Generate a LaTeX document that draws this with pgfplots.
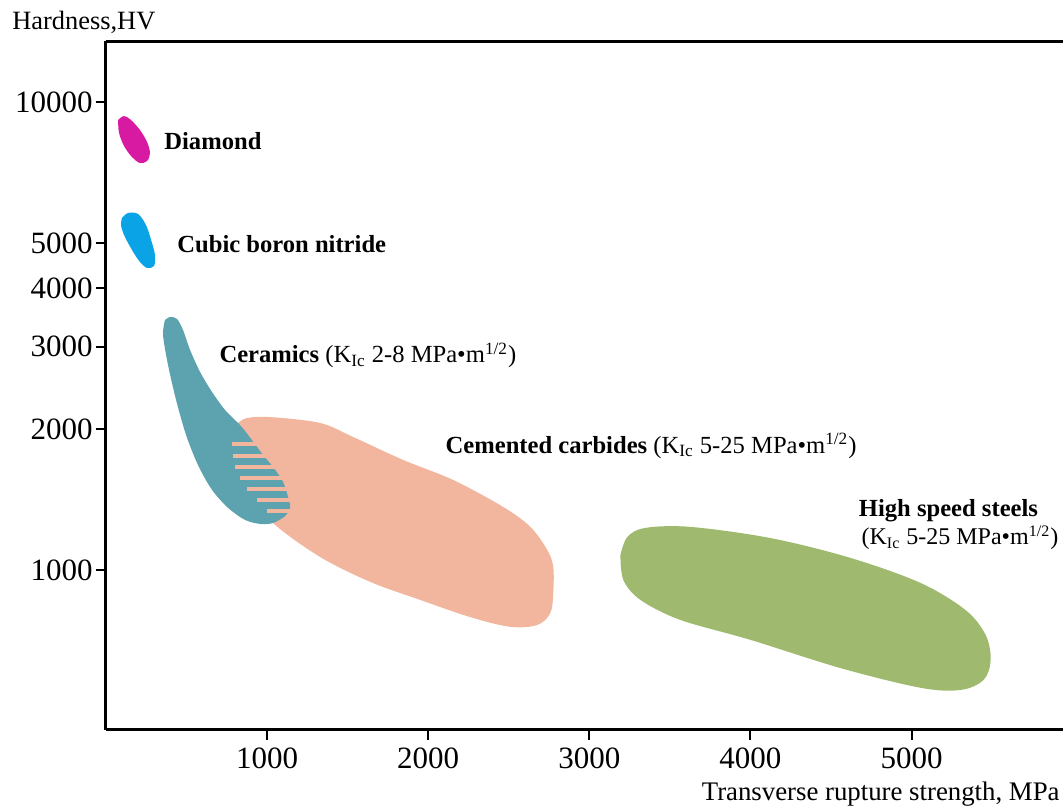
\documentclass[border=0pt]{standalone}
\usepackage{fontspec}
\setmainfont{Liberation Serif}
\usepackage{pgfplots}
\pgfplotsset{compat=1.18}
\definecolor{diam}{HTML}{D81AA2}
\definecolor{cbn}{HTML}{0AA4E6}
\definecolor{cer}{HTML}{5CA3AF}
\definecolor{carb}{HTML}{F2B59E}
\definecolor{hss}{HTML}{9FBA6E}
\begin{document}
\begin{tikzpicture}
\begin{axis}[
  scale only axis, width=478.5pt, height=344.25pt,
  xmin=0, xmax=5940, ymin=455, ymax=13470, ymode=log,
  axis x line*=box, axis y line*=left,
  axis line style={-, line width=1.5pt, black},
  xtick={1000,2000,3000,4000,5000},
  xticklabels={1000,2000,3000,4000,5000},
  ytick={1000,2000,3000,4000,5000,10000},
  yticklabels={1000,2000,3000,4000,5000,10000},
  minor tick num=0, yminorticks=false,
  xtick pos=bottom, ytick pos=left,
  tick align=outside, major tick length=5pt,
  tick style={black, line width=1pt},
  /pgf/number format/assume math mode=true,
  tick label style={font=\fontsize{15.5}{17}\selectfont},
  yticklabel style={inner sep=1.5pt},
  xticklabel style={inner sep=2pt, yshift=-2pt},
]
% Diamond
\addplot[draw=none, fill=diam, smooth, tension=0.55] coordinates {
(75,9153) (112,9334) (155,9153) (211,8711) (255,8212) (273,7780) (255,7480) (211,7407) (161,7629) (112,8054) (81,8586) (75,9153)};
% Cubic boron nitride
\addplot[draw=none, fill=cbn, smooth, tension=0.55] coordinates {
(99,5651) (137,5792) (199,5764) (248,5461) (280,5072) (304,4711) (298,4463) (255,4419) (211,4551) (161,4829) (112,5198) (93,5461) (99,5651)};
% Cemented carbides
\addplot[draw=none, fill=carb, smooth, tension=0.55] coordinates {
(820,2061) (876,2112) (1019,2122) (1329,2061) (1534,1924) (1845,1718) (2155,1557) (2466,1363) (2634,1236) (2739,1103) (2776,1015) (2776,893) (2758,809) (2677,763) (2509,756) (2261,793) (1950,863) (1640,943) (1329,1066) (1050,1248) (925,1411) (863,1636) (820,1850) (820,2061)};
% Ceramics
\addplot[draw=none, fill=cer, smooth, tension=0.5] coordinates {
(366,3421) (398,3472) (441,3438) (478,3257) (522,2952) (584,2649) (658,2401) (739,2197) (832,2040) (882,1943) (975,1761) (1037,1660) (1099,1542) (1130,1432) (1143,1357) (1112,1304) (1037,1260) (957,1254) (863,1279) (758,1357) (658,1483) (571,1676) (497,1943) (435,2308) (385,2742) (354,3178) (366,3421)};
% hatch stripes in the overlap
\addplot[draw=none, fill=carb] coordinates {(783,1841) (1205,1841) (1205,1877) (783,1877)} -- cycle;
\addplot[draw=none, fill=carb] coordinates {(789,1735) (1205,1735) (1205,1770) (789,1770)} -- cycle;
\addplot[draw=none, fill=carb] coordinates {(801,1644) (1205,1644) (1205,1676) (801,1676)} -- cycle;
\addplot[draw=none, fill=carb] coordinates {(832,1557) (1205,1557) (1205,1588) (832,1588)} -- cycle;
\addplot[draw=none, fill=carb] coordinates {(876,1475) (1205,1475) (1205,1505) (876,1505)} -- cycle;
\addplot[draw=none, fill=carb] coordinates {(938,1397) (1205,1397) (1205,1425) (938,1425)} -- cycle;
\addplot[draw=none, fill=carb] coordinates {(1000,1324) (1205,1324) (1205,1350) (1000,1350)} -- cycle;
% High speed steels
\addplot[draw=none, fill=hss, smooth, tension=0.55] coordinates {
(3193,1077) (3236,1176) (3348,1230) (3627,1236) (4124,1170) (4621,1061) (5056,938) (5335,821) (5460,726) (5491,642) (5447,582) (5304,554) (5056,560) (4559,617) (4000,709) (3565,782) (3317,863) (3211,952) (3193,1077)};
% labels
\node[inner sep=0pt, anchor=base west, font=\bfseries\fontsize{12.3}{14}\selectfont] at (axis cs:360,7899) {Diamond};
\node[inner sep=0pt, anchor=base west, font=\bfseries\fontsize{12.3}{14}\selectfont] at (axis cs:441,4780) {Cubic boron nitride};
\node[inner sep=0pt, anchor=base west, font=\fontsize{12.3}{14}\selectfont] at (axis cs:702,2769) {\textbf{Ceramics} (K\textsubscript{Ic} 2-8 MPa•m\textsuperscript{1/2})};
\node[inner sep=0pt, anchor=base west, font=\fontsize{12.3}{14}\selectfont] at (axis cs:2106,1778) {\textbf{Cemented carbides} (K\textsubscript{Ic} 5-25 MPa•m\textsuperscript{1/2})};
\node[inner sep=0pt, anchor=base west, font=\bfseries\fontsize{12.3}{14}\selectfont] at (axis cs:4671,1298) {High speed steels};
\node[inner sep=0pt, anchor=base east, font=\fontsize{12}{14}\selectfont] at (axis cs:5913,1131) {(K\textsubscript{Ic} 5-25 MPa•m\textsuperscript{1/2})};
\end{axis}
\node[inner sep=0pt, anchor=base west, font=\fontsize{13.2}{15}\selectfont] at (-47pt,350pt) {Hardness,HV};
\node[inner sep=0pt, anchor=base east, font=\fontsize{13.4}{15}\selectfont] at (477pt,-35pt) {Transverse rupture strength, MPa};
\pgfresetboundingbox
\path[use as bounding box] (-53pt,-39pt) rectangle (478.5pt,365pt);
\end{tikzpicture}
\end{document}
